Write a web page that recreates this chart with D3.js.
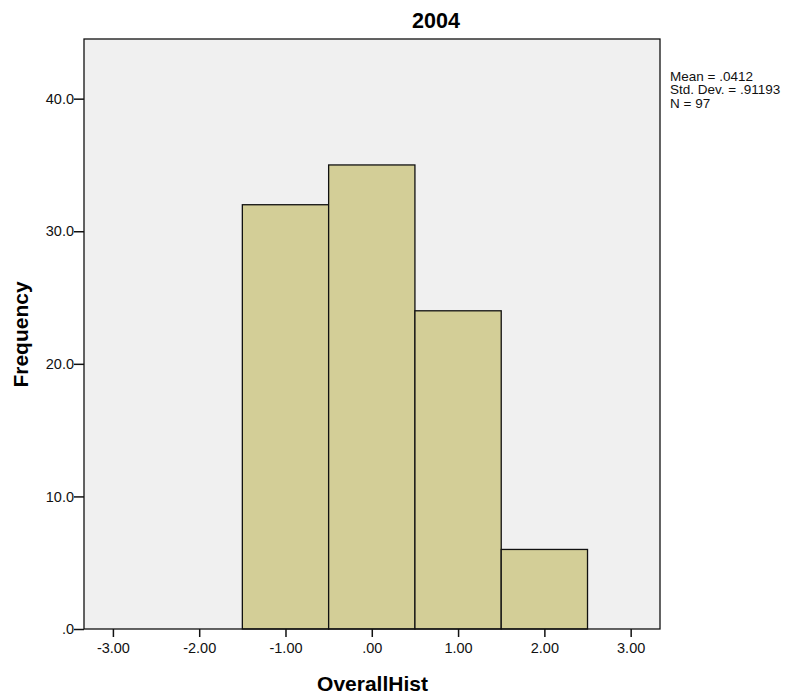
<!DOCTYPE html>
<html>
<head>
<meta charset="utf-8">
<script src="https://cdn.jsdelivr.net/npm/d3@7"></script>
<style>
  body { margin: 0; background: #fff; }
  svg { display: block; font-family: Arial, "Liberation Sans", sans-serif; }
</style>
</head>
<body>
<svg id="chart" width="803" height="696"></svg>
<script>
// Histogram bins (lower edge, upper edge) and counts
const binStarts = [-1.5, -0.5, 0.5, 1.5];
const binEnds = [-0.5, 0.5, 1.5, 2.5];
const counts = [32, 35, 24, 6];
const xTicks = [-3, -2, -1, 0, 1, 2, 3];
const yTicks = [0, 10, 20, 30, 40];
const statLines = ["Mean = .0412", "Std. Dev. = .91193", "N = 97"];

const svg = d3.select("#chart");
const plotL = 84, plotR = 660, plotT = 39, plotB = 629;
const FONT = "Arial, 'Liberation Sans', sans-serif";

const x = d3.scaleLinear().domain([-3.335, 3.34]).range([plotL, plotR]);
const y = d3.scaleLinear().domain([0, 44.5]).range([plotB, plotT]);

// plot background
svg.append("rect")
  .attr("x", plotL).attr("y", plotT)
  .attr("width", plotR - plotL).attr("height", plotB - plotT)
  .attr("fill", "#f0f0f0");

// bars
svg.append("g").selectAll("rect")
  .data(counts)
  .join("rect")
  .attr("x", (d, i) => x(binStarts[i]))
  .attr("y", d => y(d))
  .attr("width", (d, i) => x(binEnds[i]) - x(binStarts[i]))
  .attr("height", d => y(0) - y(d))
  .attr("fill", "#d3ce97")
  .attr("stroke", "#111")
  .attr("stroke-width", 1.3);

// frame
svg.append("rect")
  .attr("x", plotL).attr("y", plotT)
  .attr("width", plotR - plotL).attr("height", plotB - plotT)
  .attr("fill", "none")
  .attr("stroke", "#111")
  .attr("stroke-width", 1.3);

// axes (plain hyphen for negatives)
const fmtX = v => v === 0 ? ".00" : d3.format(".2f")(v).replace("\u2212", "-");
const fmtY = v => v === 0 ? ".0" : d3.format(".1f")(v);

const xAxis = svg.append("g")
  .attr("transform", `translate(0,${plotB})`)
  .call(d3.axisBottom(x).tickValues(xTicks).tickFormat(fmtX).tickSize(8).tickPadding(6));
xAxis.select(".domain").remove();
xAxis.selectAll("line").attr("stroke", "#111").attr("stroke-width", 1.5);
xAxis.selectAll("text").attr("font-size", 14.5).attr("fill", "#111")
  .attr("font-family", FONT);

const yAxis = svg.append("g")
  .attr("transform", `translate(${plotL},0)`)
  .call(d3.axisLeft(y).tickValues(yTicks).tickFormat(fmtY).tickSize(10).tickPadding(0));
yAxis.select(".domain").remove();
yAxis.selectAll("line").attr("stroke", "#111").attr("stroke-width", 1.5);
yAxis.selectAll("text").attr("font-size", 14.5).attr("fill", "#111")
  .attr("font-family", FONT);

// title and axis titles
svg.append("text")
  .attr("x", 436).attr("y", 28)
  .attr("text-anchor", "middle")
  .attr("font-size", 21.5).attr("font-weight", "bold")
  .attr("font-family", FONT)
  .text("2004");

svg.append("text")
  .attr("x", 372.5).attr("y", 691)
  .attr("text-anchor", "middle")
  .attr("font-size", 21).attr("font-weight", "bold")
  .attr("font-family", FONT)
  .text("OverallHist");

svg.append("text")
  .attr("transform", `translate(28,334.5) rotate(-90)`)
  .attr("text-anchor", "middle")
  .attr("font-size", 21).attr("font-weight", "bold")
  .attr("font-family", FONT)
  .text("Frequency");

// summary statistics
svg.append("g").selectAll("text")
  .data(statLines)
  .join("text")
  .attr("x", 670)
  .attr("y", (d, i) => 80.5 + i * 13.5)
  .attr("font-size", 13.5)
  .attr("font-family", FONT)
  .attr("fill", "#111")
  .text(d => d);
</script>
</body>
</html>
